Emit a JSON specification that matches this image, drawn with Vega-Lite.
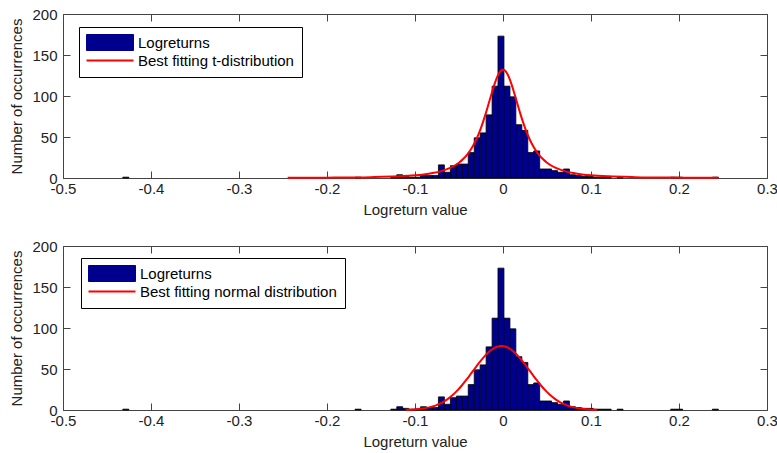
{
  "$schema": "https://vega.github.io/schema/vega-lite/v6.json",
  "background": "white",
  "padding": {"left": 9, "top": 6, "right": 5, "bottom": 5},
  "spacing": 20,
  "datasets": {
    "hist": [
      {"lo": -0.4320, "hi": -0.4252, "n": 1},
      {"lo": -0.1681, "hi": -0.1613, "n": 1},
      {"lo": -0.1275, "hi": -0.1207, "n": 1},
      {"lo": -0.1207, "hi": -0.1140, "n": 4},
      {"lo": -0.1140, "hi": -0.1072, "n": 2},
      {"lo": -0.1072, "hi": -0.1004, "n": 1},
      {"lo": -0.1004, "hi": -0.0937, "n": 1},
      {"lo": -0.0937, "hi": -0.0869, "n": 4},
      {"lo": -0.0869, "hi": -0.0801, "n": 3},
      {"lo": -0.0801, "hi": -0.0734, "n": 3},
      {"lo": -0.0734, "hi": -0.0666, "n": 16},
      {"lo": -0.0666, "hi": -0.0598, "n": 7},
      {"lo": -0.0598, "hi": -0.0530, "n": 15},
      {"lo": -0.0530, "hi": -0.0463, "n": 17},
      {"lo": -0.0463, "hi": -0.0395, "n": 17},
      {"lo": -0.0395, "hi": -0.0327, "n": 31},
      {"lo": -0.0327, "hi": -0.0260, "n": 49},
      {"lo": -0.0260, "hi": -0.0192, "n": 55},
      {"lo": -0.0192, "hi": -0.0124, "n": 77},
      {"lo": -0.0124, "hi": -0.0057, "n": 112},
      {"lo": -0.0057, "hi": 0.0011, "n": 173},
      {"lo": 0.0011, "hi": 0.0079, "n": 112},
      {"lo": 0.0079, "hi": 0.0146, "n": 99},
      {"lo": 0.0146, "hi": 0.0214, "n": 65},
      {"lo": 0.0214, "hi": 0.0282, "n": 58},
      {"lo": 0.0282, "hi": 0.0349, "n": 31},
      {"lo": 0.0349, "hi": 0.0417, "n": 33},
      {"lo": 0.0417, "hi": 0.0485, "n": 11},
      {"lo": 0.0485, "hi": 0.0552, "n": 11},
      {"lo": 0.0552, "hi": 0.0620, "n": 9},
      {"lo": 0.0620, "hi": 0.0688, "n": 7},
      {"lo": 0.0688, "hi": 0.0755, "n": 11},
      {"lo": 0.0755, "hi": 0.0823, "n": 4},
      {"lo": 0.0823, "hi": 0.0891, "n": 3},
      {"lo": 0.0891, "hi": 0.0958, "n": 2},
      {"lo": 0.0958, "hi": 0.1026, "n": 2},
      {"lo": 0.1026, "hi": 0.1094, "n": 1},
      {"lo": 0.1094, "hi": 0.1161, "n": 1},
      {"lo": 0.1161, "hi": 0.1229, "n": 1},
      {"lo": 0.1297, "hi": 0.1364, "n": 1},
      {"lo": 0.1906, "hi": 0.1973, "n": 1},
      {"lo": 0.1973, "hi": 0.2041, "n": 1},
      {"lo": 0.2379, "hi": 0.2447, "n": 1}
    ],
    "tfit": [
      {"x": -0.2447, "y": 0.25}, {"x": -0.2, "y": 0.45}, {"x": -0.15, "y": 1.05},
      {"x": -0.12, "y": 2.0}, {"x": -0.1, "y": 3.3}, {"x": -0.09, "y": 4.4},
      {"x": -0.08, "y": 6.0}, {"x": -0.07, "y": 8.4}, {"x": -0.06, "y": 12.3},
      {"x": -0.05, "y": 18.7}, {"x": -0.045, "y": 23.4}, {"x": -0.04, "y": 29.5},
      {"x": -0.035, "y": 37.5}, {"x": -0.03, "y": 47.9}, {"x": -0.025, "y": 61.2},
      {"x": -0.02, "y": 77.3}, {"x": -0.0175, "y": 86.2}, {"x": -0.015, "y": 95.5},
      {"x": -0.0125, "y": 104.6}, {"x": -0.01, "y": 113.3}, {"x": -0.0075, "y": 120.9},
      {"x": -0.005, "y": 126.9}, {"x": -0.0025, "y": 130.7}, {"x": 0, "y": 132},
      {"x": 0.0025, "y": 130.7}, {"x": 0.005, "y": 126.9}, {"x": 0.0075, "y": 120.9},
      {"x": 0.01, "y": 113.3}, {"x": 0.0125, "y": 104.6}, {"x": 0.015, "y": 95.5},
      {"x": 0.0175, "y": 86.2}, {"x": 0.02, "y": 77.3}, {"x": 0.025, "y": 61.2},
      {"x": 0.03, "y": 47.9}, {"x": 0.035, "y": 37.5}, {"x": 0.04, "y": 29.5},
      {"x": 0.045, "y": 23.4}, {"x": 0.05, "y": 18.7}, {"x": 0.06, "y": 12.3},
      {"x": 0.07, "y": 8.4}, {"x": 0.08, "y": 6.0}, {"x": 0.09, "y": 4.4},
      {"x": 0.1, "y": 3.3}, {"x": 0.12, "y": 2.0}, {"x": 0.15, "y": 1.05},
      {"x": 0.2, "y": 0.45}, {"x": 0.2447, "y": 0.25}
    ],
    "nfit": [
      {"x": -0.1106, "y": 0.29}, {"x": -0.1018, "y": 0.69}, {"x": -0.0968, "y": 1.1},
      {"x": -0.0918, "y": 1.7}, {"x": -0.0868, "y": 2.6}, {"x": -0.0818, "y": 3.8},
      {"x": -0.0768, "y": 5.4}, {"x": -0.0718, "y": 7.7}, {"x": -0.0668, "y": 10.6},
      {"x": -0.0618, "y": 14.2}, {"x": -0.0568, "y": 18.6}, {"x": -0.0518, "y": 23.9},
      {"x": -0.0468, "y": 29.9}, {"x": -0.0418, "y": 36.6}, {"x": -0.0368, "y": 43.7},
      {"x": -0.0318, "y": 50.9}, {"x": -0.0268, "y": 58.0}, {"x": -0.0218, "y": 64.5},
      {"x": -0.0168, "y": 70.1}, {"x": -0.0118, "y": 74.4}, {"x": -0.0068, "y": 77.1},
      {"x": -0.0018, "y": 78.0}, {"x": 0.0032, "y": 77.1}, {"x": 0.0082, "y": 74.4},
      {"x": 0.0132, "y": 70.1}, {"x": 0.0182, "y": 64.5}, {"x": 0.0232, "y": 58.0},
      {"x": 0.0282, "y": 50.9}, {"x": 0.0332, "y": 43.7}, {"x": 0.0382, "y": 36.6},
      {"x": 0.0432, "y": 29.9}, {"x": 0.0482, "y": 23.9}, {"x": 0.0532, "y": 18.6},
      {"x": 0.0582, "y": 14.2}, {"x": 0.0632, "y": 10.6}, {"x": 0.0682, "y": 7.7},
      {"x": 0.0732, "y": 5.4}, {"x": 0.0782, "y": 3.8}, {"x": 0.0832, "y": 2.6},
      {"x": 0.0882, "y": 1.7}, {"x": 0.0932, "y": 1.1}, {"x": 0.0982, "y": 0.69},
      {"x": 0.107, "y": 0.29}
    ]
  },
  "vconcat": [
    {
      "width": 704,
      "height": 164,
      "layer": [
        {
          "data": {"name": "hist"},
          "mark": {"type": "bar", "orient": "vertical", "stroke": "black", "strokeWidth": 0.8, "opacity": 1},
          "encoding": {
            "x": {
              "field": "lo", "type": "quantitative",
              "scale": {"domain": [-0.5, 0.3], "nice": false, "zero": false, "padding": 0},
              "axis": {"title": "Logreturn value", "values": [-0.5, -0.4, -0.3, -0.2, -0.1, 0, 0.1, 0.2, 0.3],
                       "labelExpr": "'' + datum.value", "labelPadding": 10, "titlePadding": 6}
            },
            "x2": {"field": "hi"},
            "y": {
              "field": "n", "type": "quantitative",
              "scale": {"domain": [0, 200], "nice": false, "padding": 0},
              "axis": {"title": "Number of occurrences", "values": [0, 50, 100, 150, 200],
                       "labelExpr": "'' + datum.value", "labelPadding": 13, "titlePadding": 7}
            },
            "y2": {"datum": 0},
            "color": {
              "datum": "Logreturns", "type": "nominal",
              "scale": {"domain": ["Logreturns", "Best fitting t-distribution"], "range": ["#00008F", "#FF0000"]},
              "legend": {
                "orient": "none", "legendX": 16, "legendY": 13,
                "encode": {
                  "symbols": {
                    "update": {
                      "shape": {"signal": "datum.value === 'Logreturns' ? 'M-1,-1H4.875V1H-1Z' : 'M-1,0H4.875'"},
                      "fill": {"signal": "datum.value === 'Logreturns' ? '#00008F' : 'transparent'"},
                      "stroke": {"signal": "datum.value === 'Logreturns' ? '#000000' : '#FF0000'"},
                      "strokeWidth": {"signal": "datum.value === 'Logreturns' ? 1 : 2"}
                    }
                  }
                }
              }
            }
          }
        },
        {
          "data": {"name": "tfit"},
          "mark": {"type": "line", "strokeWidth": 2, "interpolate": "monotone"},
          "encoding": {
            "x": {"field": "x", "type": "quantitative",
                  "axis": {"orient": "top", "labels": false, "title": null, "values": [-0.5, -0.4, -0.3, -0.2, -0.1, 0, 0.1, 0.2, 0.3]}},
            "y": {"field": "y", "type": "quantitative",
                  "axis": {"orient": "right", "labels": false, "title": null, "values": [0, 50, 100, 150, 200]}},
            "color": {
              "datum": "Best fitting t-distribution", "type": "nominal",
              "legend": {
                "orient": "none", "legendX": 16, "legendY": 13,
                "encode": {
                  "symbols": {
                    "update": {
                      "shape": {"signal": "datum.value === 'Logreturns' ? 'M-1,-1H4.875V1H-1Z' : 'M-1,0H4.875'"},
                      "fill": {"signal": "datum.value === 'Logreturns' ? '#00008F' : 'transparent'"},
                      "stroke": {"signal": "datum.value === 'Logreturns' ? '#000000' : '#FF0000'"},
                      "strokeWidth": {"signal": "datum.value === 'Logreturns' ? 1 : 2"}
                    }
                  }
                }
              }
            }
          }
        }
      ],
      "resolve": {"axis": {"x": "independent", "y": "independent"}}
    },
    {
      "width": 704,
      "height": 164,
      "layer": [
        {
          "data": {"name": "hist"},
          "mark": {"type": "bar", "orient": "vertical", "stroke": "black", "strokeWidth": 0.8, "opacity": 1},
          "encoding": {
            "x": {
              "field": "lo", "type": "quantitative",
              "scale": {"domain": [-0.5, 0.3], "nice": false, "zero": false, "padding": 0},
              "axis": {"title": "Logreturn value", "values": [-0.5, -0.4, -0.3, -0.2, -0.1, 0, 0.1, 0.2, 0.3],
                       "labelExpr": "'' + datum.value", "labelPadding": 10, "titlePadding": 6}
            },
            "x2": {"field": "hi"},
            "y": {
              "field": "n", "type": "quantitative",
              "scale": {"domain": [0, 200], "nice": false, "padding": 0},
              "axis": {"title": "Number of occurrences", "values": [0, 50, 100, 150, 200],
                       "labelExpr": "'' + datum.value", "labelPadding": 13, "titlePadding": 7}
            },
            "y2": {"datum": 0},
            "color": {
              "datum": "Logreturns", "type": "nominal",
              "scale": {"domain": ["Logreturns", "Best fitting normal distribution"], "range": ["#00008F", "#FF0000"]},
              "legend": {
                "orient": "none", "legendX": 18, "legendY": 12,
                "encode": {
                  "symbols": {
                    "update": {
                      "shape": {"signal": "datum.value === 'Logreturns' ? 'M-1,-1H4.875V1H-1Z' : 'M-1,0H4.875'"},
                      "fill": {"signal": "datum.value === 'Logreturns' ? '#00008F' : 'transparent'"},
                      "stroke": {"signal": "datum.value === 'Logreturns' ? '#000000' : '#FF0000'"},
                      "strokeWidth": {"signal": "datum.value === 'Logreturns' ? 1 : 2"}
                    }
                  }
                }
              }
            }
          }
        },
        {
          "data": {"name": "nfit"},
          "mark": {"type": "line", "strokeWidth": 2, "interpolate": "monotone"},
          "encoding": {
            "x": {"field": "x", "type": "quantitative",
                  "axis": {"orient": "top", "labels": false, "title": null, "values": [-0.5, -0.4, -0.3, -0.2, -0.1, 0, 0.1, 0.2, 0.3]}},
            "y": {"field": "y", "type": "quantitative",
                  "axis": {"orient": "right", "labels": false, "title": null, "values": [0, 50, 100, 150, 200]}},
            "color": {
              "datum": "Best fitting normal distribution", "type": "nominal",
              "legend": {
                "orient": "none", "legendX": 18, "legendY": 12,
                "encode": {
                  "symbols": {
                    "update": {
                      "shape": {"signal": "datum.value === 'Logreturns' ? 'M-1,-1H4.875V1H-1Z' : 'M-1,0H4.875'"},
                      "fill": {"signal": "datum.value === 'Logreturns' ? '#00008F' : 'transparent'"},
                      "stroke": {"signal": "datum.value === 'Logreturns' ? '#000000' : '#FF0000'"},
                      "strokeWidth": {"signal": "datum.value === 'Logreturns' ? 1 : 2"}
                    }
                  }
                }
              }
            }
          }
        }
      ],
      "resolve": {"axis": {"x": "independent", "y": "independent"}}
    }
  ],
  "resolve": {"scale": {"color": "independent"}, "legend": {"color": "independent"}},
  "config": {
    "font": "Liberation Sans, Arial, Helvetica, sans-serif",
    "view": {"stroke": "#444444", "strokeWidth": 1},
    "axis": {
      "labelFont": "Liberation Sans, Arial, Helvetica, sans-serif",
      "labelFontSize": 15,
      "labelColor": "#222222",
      "titleFont": "Liberation Sans, Arial, Helvetica, sans-serif",
      "titleFontSize": 15,
      "titleFontWeight": "normal",
      "titleColor": "#222222",
      "domain": false,
      "grid": false,
      "ticks": true,
      "tickSize": -7,
      "tickColor": "#444444",
      "tickWidth": 1,
      "labelFlush": false,
      "labelOverlap": false
    },
    "legend": {
      "title": null,
      "padding": 8,
      "strokeColor": "#000000",
      "fillColor": "#FFFFFF",
      "cornerRadius": 0,
      "labelFont": "Liberation Sans, Arial, Helvetica, sans-serif",
      "labelFontSize": 15,
      "labelColor": "#000000",
      "labelLimit": 400,
      "symbolSize": 256,
      "labelOffset": 36,
      "rowPadding": -2
    }
  }
}
